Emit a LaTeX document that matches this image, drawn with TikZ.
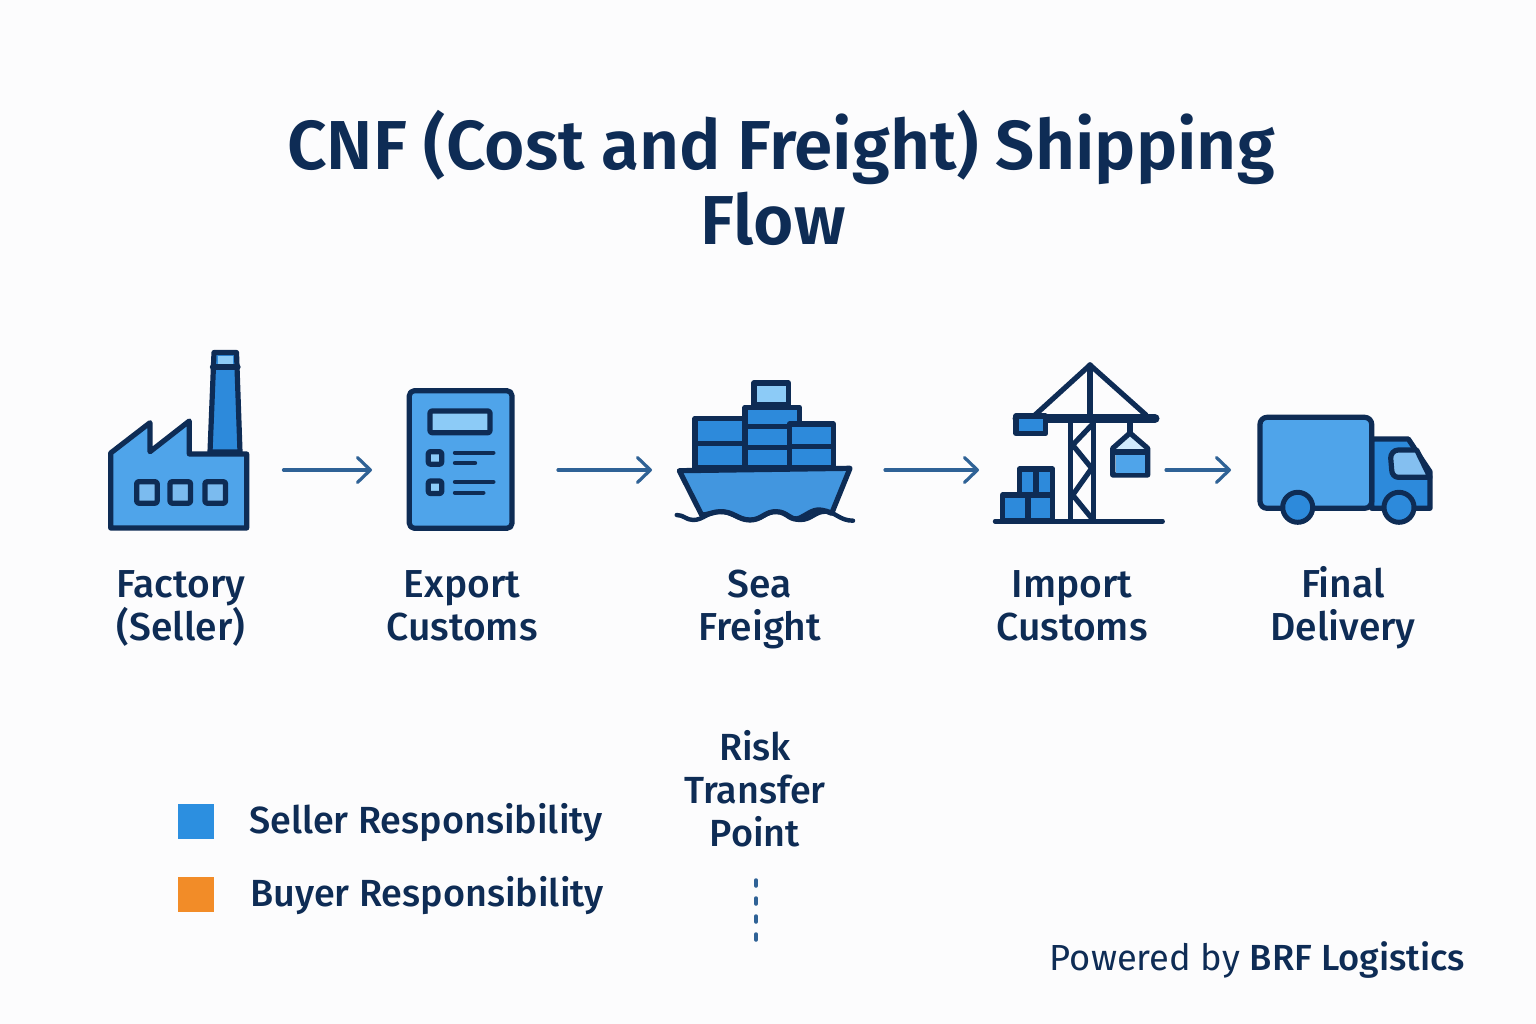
\documentclass[tikz,border=0pt]{standalone}
\usepackage{fontspec}
\setmainfont{Fira Sans}
\newfontfamily\labelfont{Fira Sans Medium}
\newfontfamily\titlefont{Fira Sans SemiBold}
\usetikzlibrary{calc,arrows.meta}

\definecolor{cInk}{HTML}{0E2C55}
\definecolor{cPage}{HTML}{FCFCFD}
\definecolor{cArrow}{HTML}{2F6296}
\definecolor{cBody}{HTML}{4FA4EA}
\definecolor{cDeep}{HTML}{2D8ADB}
\definecolor{cPale}{HTML}{8CCBF7}
\definecolor{cSeller}{HTML}{2C8FE0}
\definecolor{cBuyer}{HTML}{F28C28}

\tikzset{
    iconPen/.style={draw=cInk,line width=5.2pt,line join=round,line cap=round},
    iconBox/.style={inner sep=0pt,outer sep=0pt,minimum height=10pt},
    flowArrow/.style={draw=cArrow,line width=3.2pt,line cap=round,-{Straight Barb[length=13pt,width=25pt,line width=3.2pt,round]}},
    stepLabel/.style={text=cInk,align=center,font=\labelfont\fontsize{39}{43.5}\selectfont,execute at begin node=\strut,execute at end node=\strut},
    keyLabel/.style={stepLabel,font=\labelfont\fontsize{37.8}{43}\selectfont},
    swatch/.style={inner sep=0pt,outer sep=0pt,minimum width=36pt,minimum height=35pt}
}

\begin{document}
\begin{tikzpicture}[x=1pt,y=-1pt]
        \useasboundingbox (0,0) rectangle (1536,1024);
        \fill[cPage] (0,0) rectangle (1536,1024);

        \node[text=cInk,font=\titlefont\fontsize{69.3}{74}\selectfont] (nTitleA) at (781,147) {CNF (Cost and Freight) Shipping};
        \node[text=cInk,font=\titlefont\fontsize{69.3}{74}\selectfont] (nTitleB) at (773,219) {Flow};

        \node[iconBox,minimum width=141pt] (nFactory) at (179,470) {};
        \node[iconBox,minimum width=110pt] (nExport) at (461,470) {};
        \node[iconBox,minimum width=180pt] (nShip) at (766,470) {};
        \node[iconBox,minimum width=172pt] (nCrane) at (1079,470) {};
        \node[iconBox,minimum width=176pt] (nTruck) at (1345,470) {};

        \foreach \a/\b/\s/\e in
        {nFactory/nExport/34/34,
            nExport/nShip/42/24,
            nShip/nCrane/29/14,
            nCrane/nTruck/1/26
        }
        {
            \draw[flowArrow,shorten <=\s pt,shorten >=\e pt] (\a) -- (\b);
        };

        % factory
        \draw[iconPen,fill=cDeep] (210,452) -- (214,352.5) -- (236.5,352.5) -- (240,452) -- cycle;
        \fill[cPale] (217.5,356) rectangle (233,364);
        \draw[iconPen] (212.5,367) -- (238,367);
        \draw[iconPen,fill=cBody] (110.7,453) -- (150,422.7) -- (150,451.7) -- (189.3,421) -- (189.3,454) -- (246.7,454) -- (246.7,528) -- (110.7,528) -- cycle;
        \foreach \x in {136.7,170,205}
        {
            \draw[iconPen,fill=cBody!75!white,rounded corners=2pt] (\x,481.7) rectangle ++(20.5,21.5);
        };

        % customs form
        \draw[iconPen,fill=cBody,rounded corners=5pt] (409.3,390.7) rectangle (512,528.3);
        \draw[iconPen,fill=cPale,rounded corners=2pt] (430,411) rectangle (490,432.7);
        \foreach \y in {451.7,481}
        {
            \draw[iconPen,fill=cPale,rounded corners=2pt] (428.3,\y) rectangle ++(13.4,12.5);
        };
        \draw[iconPen,line width=4.4pt] (455,452.7) -- (493.3,452.7);
        \draw[iconPen,line width=4.4pt] (455,463) -- (475,463);
        \draw[iconPen,line width=4.4pt] (455,482) -- (493.3,482);
        \draw[iconPen,line width=4.4pt] (455,492.7) -- (483.3,492.7);

        % ship
        \draw[iconPen,fill=cPale] (754,383) rectangle (788.5,405);
        \draw[iconPen,fill=cDeep] (745,407.3) rectangle (799.3,426.7);
        \draw[iconPen,fill=cDeep] (695,418.3) rectangle (745,468);
        \draw[iconPen] (695,443.3) -- (745,443.3);
        \draw[iconPen,fill=cDeep] (745,426.7) rectangle (789.3,468);
        \draw[iconPen] (745,447.7) -- (789.3,447.7);
        \draw[iconPen,fill=cDeep] (789.3,424) rectangle (833.3,468);
        \draw[iconPen] (789.3,446.7) -- (833.3,446.7);
        \draw[iconPen,fill=cDeep!90!white] (679.3,470.7) -- (850,468.3) -- (831.7,513.3)
            .. controls (815,506) and (812,512) .. (800,518)
            .. controls (790,522) and (788,512) .. (776.7,511.7)
            .. controls (765,511) and (762,520) .. (750,520)
            .. controls (738,520) and (733,511) .. (720,511.7)
            .. controls (712,512) and (708,515) .. (701.7,515) -- cycle;
        \draw[iconPen,line width=4.4pt,fill=none] (676.7,515)
            .. controls (684,515) and (686,520) .. (693.3,520)
            .. controls (703,520) and (708,511.7) .. (720,511.7)
            .. controls (733,511.7) and (738,520) .. (750,520)
            .. controls (762,520) and (765,511.7) .. (776.7,511.7)
            .. controls (788,511.7) and (790,520) .. (800,520)
            .. controls (812,520) and (815,511) .. (826.7,511.7)
            .. controls (835,512) and (840,520.7) .. (853,520.7);

        % crane
        \draw[iconPen] (1035,415) -- (1090,365) -- (1146,415);
        \draw[iconPen,line width=5.5pt] (1090,365) -- (1090,418);
        \draw[iconPen,line width=9pt] (1017,418.5) -- (1155,418.5);
        \draw[iconPen,fill=cDeep] (1016,416) rectangle (1045.7,433.5);
        \draw[iconPen] (1070.7,420) -- (1070.7,521);
        \draw[iconPen,line width=5.5pt] (1093.5,420) -- (1093.5,521);
        \draw[iconPen] (1091.7,425) -- (1072.7,445) -- (1091.7,468.3) -- (1072.7,495) -- (1091.7,518.3);
        \draw[iconPen] (1130,423) -- (1130,433);
        \draw[iconPen,fill=cPale!40!white] (1130,433) -- (1112.7,448.3) -- (1112.7,475) -- (1147.7,475) -- (1147.7,448.3) -- cycle;
        \draw[draw=cInk,line width=6pt] (1112.7,451.5) -- (1147.7,451.5);
        \fill[cBody] (1115.5,455) rectangle (1145,472.5);
        \draw[iconPen,fill=cDeep] (1019.3,469) rectangle (1052.7,495);
        \draw[iconPen] (1036,469) -- (1036,495);
        \draw[iconPen,fill=cDeep] (1002.7,495) rectangle (1052.7,521);
        \draw[iconPen] (1028,495) -- (1028,521);
        \draw[iconPen,line width=4.4pt] (995,521.3) -- (1162.7,521.3);

        % truck
        \draw[iconPen,fill=cDeep] (1371.7,439) -- (1408.3,439) -- (1430,471.7) -- (1430,508.3) -- (1371.7,508.3) -- cycle;
        \draw[iconPen,fill=cBody!70!white] (1416.7,450) -- (1398.3,450) to[out=180,in=90] (1390.7,458) -- (1391.7,470) to[out=-90,in=180] (1398.3,477.3) -- (1430,477.3) -- cycle;
        \draw[iconPen,fill=cBody,rounded corners=7pt] (1260,417.3) rectangle (1371.7,508.3);
        \foreach \x in {1297.7,1399}
        {
            \draw[iconPen,line width=5pt,fill=cDeep] (\x,507.3) circle (15pt);
        };

        \node[stepLabel] (nFactoryText) at (181,612) {Factory\\(Seller)};
        \node[stepLabel] (nExportText) at (462,612) {Export\\Customs};
        \node[stepLabel] (nShipText) at (760,612) {Sea\\Freight};
        \node[stepLabel] (nCraneText) at (1072,612) {Import\\Customs};
        \node[stepLabel] (nTruckText) at (1343,610) {Final\\Delivery};
        \node[keyLabel] (nRiskText) at (755,795) {Risk\\Transfer\\Point};

        \node[swatch,fill=cSeller] (nSellerKey) at (196,821.5) {};
        \node[swatch,fill=cBuyer] (nBuyerKey) at (196,894.5) {};
        \node[keyLabel] (nSellerText) at (426,825) {Seller Responsibility};
        \node[keyLabel] (nBuyerText) at (427,898) {Buyer Responsibility};

        \coordinate (cRiskTop) at (756,880);
        \coordinate (cRiskEnd) at (756,942);
        \draw[cArrow,line width=3.5pt,dash pattern=on 6pt off 12pt,line cap=round] (cRiskTop) -- (cRiskEnd);

        \node[keyLabel,font=\fontsize{36.3}{43}\selectfont] (nPowered) at (1257.5,962) {Powered by {\labelfont BRF Logistics}};

        \end{tikzpicture}
\end{document}
